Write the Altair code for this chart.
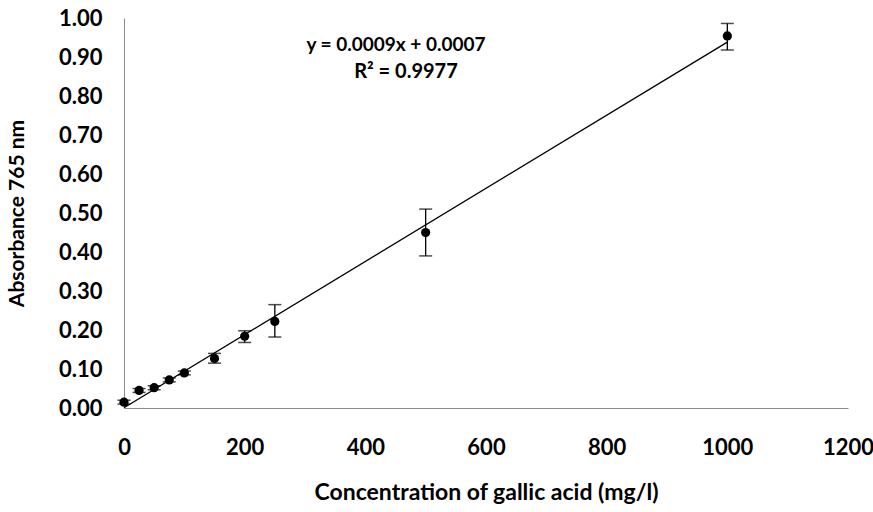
import altair as alt
import pandas as pd

conc = [0, 25, 50, 75, 100, 150, 200, 250, 500, 1000]
absorb = [0.015, 0.045, 0.052, 0.072, 0.090, 0.127, 0.184, 0.222, 0.450, 0.954]
err_low = [0.010, 0.040, 0.047, 0.067, 0.085, 0.115, 0.168, 0.182, 0.390, 0.918]
err_high = [0.020, 0.050, 0.057, 0.077, 0.095, 0.140, 0.198, 0.265, 0.510, 0.986]
x_ticks = [0, 200, 400, 600, 800, 1000, 1200]
y_ticks = [0, 0.1, 0.2, 0.3, 0.4, 0.5, 0.6, 0.7, 0.8, 0.9, 1.0]

df = pd.DataFrame({"conc": conc, "abs": absorb, "lo": err_low, "hi": err_high})

FONT = "Lato"
xs = alt.Scale(domain=[0, 1200], nice=False, zero=True)
ys = alt.Scale(domain=[0, 1.0], nice=False)

base = alt.Chart(df)

xaxis = alt.Axis(values=x_ticks, format="d", grid=False, ticks=False,
                 domainColor="#8c8c8c", labelFont=FONT, labelFontSize=22, labelFontWeight="bold",
                 labelColor="#000000", labelPadding=29, labelOverlap=False,
                 title="Concentration of gallic acid (mg/l)",
                 titleFont=FONT, titleFontSize=23, titleFontWeight="bold", titleColor="#000000",
                 titlePadding=23, labelFlush=False)
yaxis = alt.Axis(values=y_ticks, format=".2f",
                 grid=False, ticks=False, domainColor="#8c8c8c", labelFont=FONT, labelFontSize=22,
                 labelFontWeight="bold", labelColor="#000000", labelPadding=22, labelOverlap=False,
                 title="Absorbance 765 nm", titleFont=FONT, titleFontSize=21, titleFontWeight="bold",
                 titleColor="#000000", titlePadding=31, labelFlush=False)

X = alt.X("conc:Q", scale=xs, axis=xaxis)

trend = base.transform_regression("conc", "abs", extent=[0, 1000]).mark_line(
    color="#000000", strokeWidth=1.3).encode(
    x=X, y=alt.Y("abs:Q", scale=ys, axis=yaxis))

bars = base.mark_rule(color="#000000", strokeWidth=1.3).encode(
    x=X, y=alt.Y("lo:Q", scale=ys, axis=yaxis), y2="hi:Q")
cap_lo = base.mark_tick(color="#000000", orient="horizontal", size=13, thickness=1.5).encode(
    x=X, y=alt.Y("lo:Q", scale=ys, axis=yaxis))
cap_hi = base.mark_tick(color="#000000", orient="horizontal", size=13, thickness=1.5).encode(
    x=X, y=alt.Y("hi:Q", scale=ys, axis=yaxis))
pts = base.mark_circle(color="#000000", size=85, opacity=1).encode(
    x=X, y=alt.Y("abs:Q", scale=ys, axis=yaxis))

eq = alt.Chart(pd.DataFrame({"t": ["y = 0.0009x + 0.0007"]})).mark_text(
    font=FONT, fontSize=19, fontWeight="bold", color="#000000").encode(
    text="t:N", x=alt.value(272), y=alt.value(27))
r2 = alt.Chart(pd.DataFrame({"t": ["R² = 0.9977"]})).mark_text(
    font=FONT, fontSize=20, fontWeight="bold", color="#000000").encode(
    text="t:N", x=alt.value(282), y=alt.value(54))

chart = alt.layer(trend, bars, cap_lo, cap_hi, pts, eq, r2).properties(
    width=724, height=390,
    autosize=alt.AutoSizeParams(type="none"),
    padding={"left": 124, "top": 18, "right": 25, "bottom": 104},
    background="white",
).configure_view(stroke=None)

chart.save("out.html", embed_options={"renderer": "svg", "actions": False})
